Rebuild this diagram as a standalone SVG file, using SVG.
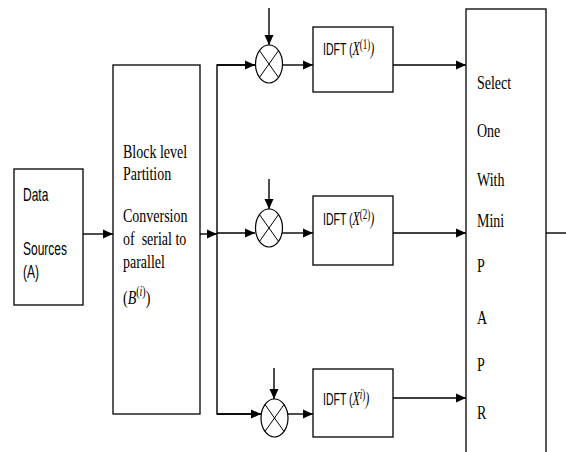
<svg xmlns="http://www.w3.org/2000/svg" width="566" height="452" viewBox="0 0 566 452">
<style>
.box{fill:#fff;stroke:#000;stroke-width:1.3}
.ln{fill:none;stroke:#000;stroke-width:1.4}
.arr{fill:none;stroke:#000;stroke-width:1.4;marker-end:url(#ah)}
.mix{fill:#fff;stroke:#000;stroke-width:1.2}
.mx{stroke:#000;stroke-width:1}
.tnr{font-family:"Liberation Serif","Times New Roman",serif;font-size:14px;fill:#000}
.sans{font-family:"Liberation Sans",Arial,sans-serif;font-size:12px;fill:#000}
.idft{font-family:"Liberation Sans",Arial,sans-serif;font-size:10.5px;fill:#000}
.m{font-family:"Liberation Serif","Times New Roman",serif;font-style:italic}
.mX{font-family:"Liberation Serif","Times New Roman",serif;font-style:italic;font-size:12px}
.sup{font-family:"Liberation Serif","Times New Roman",serif;font-size:9px}
</style>
<defs>
<marker id="ah" markerUnits="userSpaceOnUse" markerWidth="10" markerHeight="10" viewBox="0 0 10 10" refX="10" refY="5" orient="auto">
<path d="M0,0.5 L10,5 L0,9.5 Z" fill="#000"/>
</marker>
</defs>
<rect width="566" height="452" fill="#fff"/>
<g id="connectors">
<line class="arr" x1="83" y1="234" x2="113" y2="234"/>
<line class="arr" x1="200" y1="234" x2="217" y2="234"/>
<polyline class="ln" points="255,65 217,65 217,414 261,414"/>
<line class="arr" x1="217" y1="65" x2="255" y2="65"/>
<line class="arr" x1="217" y1="233" x2="255" y2="233"/>
<line class="arr" x1="217" y1="414" x2="261" y2="414"/>
<line class="arr" x1="269" y1="8" x2="269" y2="45"/>
<line class="arr" x1="269" y1="179" x2="269" y2="209"/>
<line class="arr" x1="274" y1="368" x2="274" y2="399"/>
<line class="arr" x1="282" y1="65" x2="313" y2="65"/>
<line class="arr" x1="282" y1="233" x2="313" y2="233"/>
<line class="arr" x1="288" y1="414" x2="313" y2="414"/>
<line class="arr" x1="393" y1="65" x2="466" y2="65"/>
<line class="arr" x1="393" y1="233" x2="466" y2="233"/>
<line class="arr" x1="393" y1="398" x2="466" y2="398"/>
<line class="ln" x1="546" y1="233" x2="566" y2="233"/>
</g>
<g id="data-sources">
<rect class="box" x="14" y="169" width="69" height="136"/>
<text class="sans" transform="translate(23 201) scale(1 1.5)">Data</text>
<text class="sans" transform="translate(23 255) scale(1 1.5)">Sources</text>
<text class="sans" transform="translate(23 278) scale(1 1.5)">(A)</text>
</g>
<g id="block-partition">
<rect class="box" x="113" y="65" width="87" height="349"/>
<text class="tnr" transform="translate(123 158) scale(1 1.4)">Block level</text>
<text class="tnr" transform="translate(123 180) scale(1 1.4)">Partition</text>
<text class="tnr" transform="translate(123 222) scale(1 1.4)">Conversion</text>
<text class="tnr" xml:space="preserve" transform="translate(123 245) scale(1 1.4)">of  serial to</text>
<text class="tnr" transform="translate(123 268) scale(1 1.4)">parallel</text>
<text class="tnr" transform="translate(123 304) scale(1 1.4)">(<tspan class="m">B</tspan><tspan font-size="10" dy="-5.5">(<tspan class="m">i</tspan>)</tspan><tspan dy="5.5">)</tspan></text>
</g>
<g id="mixer-1">
<ellipse class="mix" cx="269" cy="64" rx="13.5" ry="19"/>
<line class="mx" x1="259.5" y1="50.6" x2="278.5" y2="77.4"/>
<line class="mx" x1="278.5" y1="50.6" x2="259.5" y2="77.4"/>
</g>
<g id="mixer-2">
<ellipse class="mix" cx="269" cy="228" rx="13.5" ry="19"/>
<line class="mx" x1="259.5" y1="214.6" x2="278.5" y2="241.4"/>
<line class="mx" x1="278.5" y1="214.6" x2="259.5" y2="241.4"/>
</g>
<g id="mixer-3">
<ellipse class="mix" cx="274.5" cy="418" rx="13.5" ry="19"/>
<line class="mx" x1="265" y1="404.6" x2="284" y2="431.4"/>
<line class="mx" x1="284" y1="404.6" x2="265" y2="431.4"/>
</g>
<g id="idft-1">
<rect class="box" x="313" y="27" width="80" height="65"/>
<text class="idft" transform="translate(323 55) scale(1 1.6)">IDFT (<tspan class="mX">X</tspan><tspan class="sup" dy="-4">(1)</tspan><tspan class="mX" dy="4" font-style="normal">)</tspan></text>
</g>
<g id="idft-2">
<rect class="box" x="313" y="196" width="80" height="69"/>
<text class="idft" transform="translate(323 225) scale(1 1.6)">IDFT (<tspan class="mX">X</tspan><tspan class="sup" dy="-4">(2)</tspan><tspan class="mX" dy="4" font-style="normal">)</tspan></text>
</g>
<g id="idft-3">
<rect class="box" x="313" y="369" width="80" height="68"/>
<text class="idft" transform="translate(323 405) scale(1 1.6)">IDFT (<tspan class="mX">X</tspan><tspan class="sup" dy="-4"><tspan font-style="italic">i</tspan>)</tspan><tspan class="mX" dy="4" font-style="normal">)</tspan></text>
</g>
<g id="select-min-papr">
<rect class="box" x="466" y="9" width="80" height="450"/>
<text class="tnr" transform="translate(477 89) scale(1 1.4)">Select</text>
<text class="tnr" transform="translate(477 137) scale(1 1.4)">One</text>
<text class="tnr" transform="translate(477 186) scale(1 1.4)">With</text>
<text class="tnr" transform="translate(477 227) scale(1 1.4)">Mini</text>
<text class="tnr" transform="translate(477 272) scale(1 1.4)">P</text>
<text class="tnr" transform="translate(477 324) scale(1 1.4)">A</text>
<text class="tnr" transform="translate(477 371) scale(1 1.4)">P</text>
<text class="tnr" transform="translate(477 419) scale(1 1.4)">R</text>
</g>
</svg>
